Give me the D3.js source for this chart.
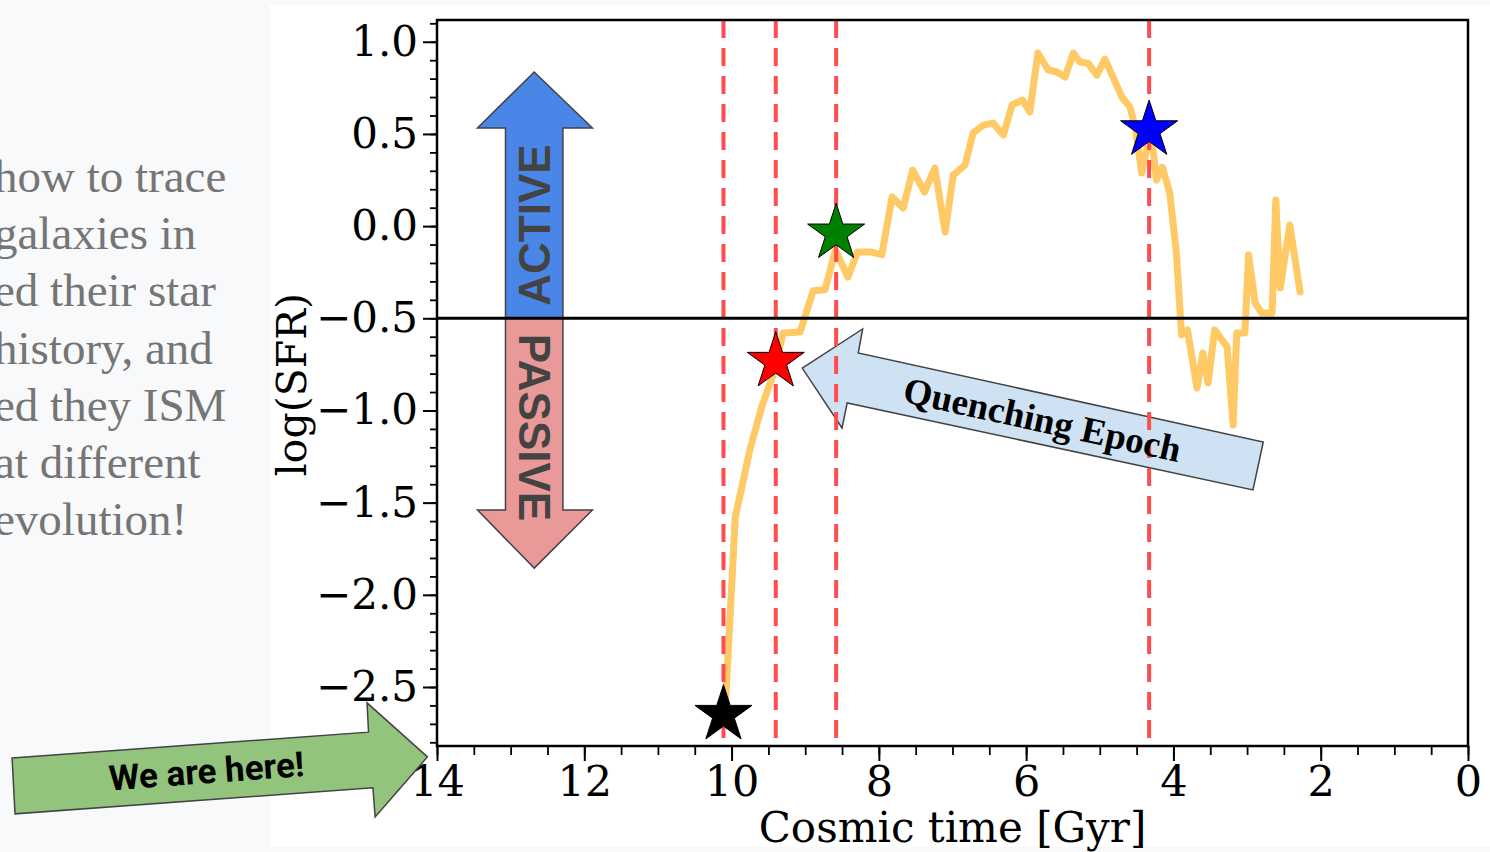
<!DOCTYPE html>
<html>
<head>
<meta charset="utf-8">
<script src="https://cdn.jsdelivr.net/npm/d3@7"></script>
<style>
  body { margin: 0; background: #f8f9fa; }
  .tick text { font-family: "DejaVu Serif", serif; fill: #000; }
</style>
</head>
<body>
<div id="chart"></div>
<script>
// DATA
// Star formation history: cosmic time (Gyr) and log(SFR)
var cosmicTime = [10.09, 9.95, 9.75, 9.59, 9.43, 9.30, 9.07, 8.89, 8.73, 8.59,
  8.42, 8.29, 8.12, 7.96, 7.82, 7.67, 7.54, 7.38, 7.24, 7.10,
  6.99, 6.83, 6.72, 6.58, 6.45, 6.31, 6.19, 6.05, 5.95, 5.84,
  5.70, 5.58, 5.47, 5.36, 5.27, 5.16, 5.04, 4.93, 4.82, 4.70,
  4.59, 4.52, 4.43, 4.36, 4.28, 4.23, 4.15, 4.05, 3.96, 3.89,
  3.81, 3.68, 3.60, 3.53, 3.44, 3.27, 3.19, 3.14, 3.03, 2.98,
  2.89, 2.80, 2.66, 2.61, 2.55, 2.42, 2.32, 2.28];
var logSFR = [-2.65, -1.58, -1.21, -0.98, -0.80, -0.58, -0.575, -0.35, -0.345, -0.13,
  -0.276, -0.14, -0.14, -0.155, 0.158, 0.098, 0.304, 0.185, 0.315, -0.032,
  0.277, 0.331, 0.505, 0.548, 0.559, 0.494, 0.657, 0.684, 0.619, 0.939,
  0.847, 0.836, 0.809, 0.939, 0.89, 0.884, 0.819, 0.906, 0.809, 0.70,
  0.646, 0.537, 0.288, 0.424, 0.424, 0.25, 0.32, 0.18, -0.146, -0.59,
  -0.563, -0.878, -0.688, -0.851, -0.563, -0.656, -1.079, -0.58, -0.58, -0.157,
  -0.417, -0.471, -0.471, 0.142, -0.335, 0.006, -0.254, -0.357];

// Marked epochs (stars + dashed lines)
var epochTime = [10.11, 9.40, 8.58, 4.33];
var epochSFR = [-2.65, -0.735, -0.039, 0.521];
var epochColor = ["#000000", "#ff0000", "#008000", "#0000ff"];

// Active / passive divide
var divideSFR = -0.5;

// Tick labels
var xTicks = [14, 12, 10, 8, 6, 4, 2, 0];
var yTicks = [1.0, 0.5, 0.0, -0.5, -1.0, -1.5, -2.0, -2.5];

// Text of the slide on the left (cut at the edge)
var sideLines = ["how to trace", "galaxies in", "ed their star", "history, and",
  "ed they ISM", "at different", "evolution!"];

// SET UP
var W = 1490, H = 852;
var margin = {top: 20, right: 22, bottom: 106, left: 437},
    width = W - margin.left - margin.right,
    height = H - margin.top - margin.bottom;

var root = d3.select("#chart").append("svg")
    .attr("width", W)
    .attr("height", H);

// slide background + white figure panel
root.append("rect").attr("width", W).attr("height", H).attr("fill", "#f8f9fa");
root.append("rect").attr("x", 270).attr("y", 5).attr("width", W - 270).attr("height", 842).attr("fill", "#ffffff");

// left slide text
root.append("g").selectAll("text")
    .data(sideLines)
    .join("text")
    .attr("x", -6)
    .attr("y", (d, i) => 192 + i * 57.2)
    .attr("font-family", "Liberation Serif, serif")
    .attr("font-size", 47)
    .attr("fill", "#757575")
    .text(d => d);

var svg = root.append("g")
    .attr("transform", "translate(" + margin.left + "," + margin.top + ")");

// scales
var x = d3.scaleLinear().domain([14, 0]).range([0, width]);
var y = d3.scaleLinear().domain([1.118, -2.82]).range([0, height]);

// ACTIVE / PASSIVE arrows (built in data units)
var arrowL = 13.07, arrowR = 12.29, headL = 13.45, headR = 11.89, arrowMid = 12.68;
var activePts = [[arrowMid, 0.836], [headR, 0.532], [arrowR, 0.532], [arrowR, divideSFR],
  [arrowL, divideSFR], [arrowL, 0.532], [headL, 0.532]];
var passivePts = [[arrowMid, -1.855], [headR, -1.54], [arrowR, -1.54], [arrowR, divideSFR],
  [arrowL, divideSFR], [arrowL, -1.54], [headL, -1.54]];
var poly = d3.line().x(d => x(d[0])).y(d => y(d[1]));

svg.append("path").attr("d", poly(activePts) + "Z")
    .attr("fill", "#4a86e8").attr("stroke", "#434343").attr("stroke-width", 1.5);
svg.append("path").attr("d", poly(passivePts) + "Z")
    .attr("fill", "#ea9999").attr("stroke", "#434343").attr("stroke-width", 1.5);

svg.append("text")
    .attr("transform", "translate(" + x(arrowMid) + "," + y(0.006) + ") rotate(-90)")
    .attr("text-anchor", "middle").attr("dominant-baseline", "central")
    .attr("font-family", "Liberation Sans, Arial, sans-serif").attr("font-weight", "bold")
    .attr("font-size", 44).attr("fill", "#434343")
    .text("ACTIVE");
svg.append("text")
    .attr("transform", "translate(" + x(arrowMid) + "," + y(-1.092) + ") rotate(90)")
    .attr("text-anchor", "middle").attr("dominant-baseline", "central")
    .attr("font-family", "Liberation Sans, Arial, sans-serif").attr("font-weight", "bold")
    .attr("font-size", 44).attr("fill", "#434343")
    .text("PASSIVE");

// SFR curve
svg.append("path")
    .datum(cosmicTime.map((t, i) => [t, logSFR[i]]))
    .attr("fill", "none")
    .attr("stroke", "#ffc966")
    .attr("stroke-width", 7)
    .attr("stroke-linejoin", "round")
    .attr("stroke-linecap", "round")
    .attr("d", d3.line().x(d => x(d[0])).y(d => y(d[1])));

// Quenching Epoch arrow
var quenchPts = [[9.04, -0.77], [8.22, -0.558], [8.28, -0.688], [2.78, -1.171],
  [2.92, -1.431], [8.43, -0.959], [8.50, -1.095]];
svg.append("path").attr("d", poly(quenchPts) + "Z")
    .attr("fill", "#cfe2f3").attr("stroke", "#434343").attr("stroke-width", 1.5);

// dashed epoch lines
svg.append("g").selectAll("line")
    .data(epochTime)
    .join("line")
    .attr("x1", d => x(d)).attr("x2", d => x(d))
    .attr("y1", 0).attr("y2", height)
    .attr("stroke", "#ff4d4d")
    .attr("stroke-width", 4)
    .attr("stroke-dasharray", "18,10");

svg.append("text")
    .attr("transform", "translate(" + x(5.78) + "," + y(-1.05) + ") rotate(12.4)")
    .attr("text-anchor", "middle").attr("dominant-baseline", "central")
    .attr("font-family", "Liberation Serif, Times New Roman, serif").attr("font-weight", "bold")
    .attr("font-size", 37).attr("fill", "#000")
    .text("Quenching Epoch");

// divide line
svg.append("line")
    .attr("x1", 0).attr("x2", width)
    .attr("y1", y(divideSFR)).attr("y2", y(divideSFR))
    .attr("stroke", "#000").attr("stroke-width", 3);

// stars
svg.append("g").selectAll("path")
    .data(epochTime)
    .join("path")
    .attr("transform", (d, i) => "translate(" + x(d) + "," + y(epochSFR[i]) + ")")
    .attr("d", d3.symbol(d3.symbolStar, 1010))
    .attr("fill", (d, i) => epochColor[i])
    .attr("stroke", "#000")
    .attr("stroke-width", 1);

// AXES
// minor ticks
svg.append("g")
    .call(d3.axisLeft(y).tickValues(d3.range(-28, 12).map(v => v / 10)).tickSize(7).tickFormat(""))
    .call(g => g.select(".domain").remove())
    .selectAll("line").attr("stroke-width", 1.8);
svg.append("g")
    .attr("transform", "translate(0," + height + ")")
    .call(d3.axisBottom(x).tickValues(d3.range(0, 29).map(v => v / 2)).tickSize(9).tickFormat(""))
    .call(g => g.select(".domain").remove())
    .selectAll("line").attr("stroke-width", 1.8);

// major ticks with labels
var yAxis = svg.append("g")
    .call(d3.axisLeft(y).tickValues(yTicks).tickSize(14).tickPadding(5).tickFormat(d3.format(".1f")))
    .call(g => g.select(".domain").remove());
yAxis.selectAll("line").attr("stroke-width", 2);
yAxis.selectAll("text").attr("font-size", 42);

var xAxis = svg.append("g")
    .attr("transform", "translate(0," + height + ")")
    .call(d3.axisBottom(x).tickValues(xTicks).tickSize(15).tickPadding(4).tickFormat(d3.format("d")))
    .call(g => g.select(".domain").remove());
xAxis.selectAll("line").attr("stroke-width", 2);
xAxis.selectAll("text").attr("font-size", 43).attr("font-family", "DejaVu Serif Condensed, DejaVu Serif, serif");

// frame
svg.append("rect")
    .attr("width", width).attr("height", height)
    .attr("fill", "none").attr("stroke", "#000").attr("stroke-width", 2.5);

// axis titles
svg.append("text")
    .attr("x", width / 2).attr("y", height + 96)
    .attr("text-anchor", "middle")
    .attr("font-family", "DejaVu Serif, serif")
    .attr("font-size", 42)
    .text("Cosmic time [Gyr]");
svg.append("text")
    .attr("transform", "translate(" + (-131) + "," + y(-0.86) + ") rotate(-90)")
    .attr("text-anchor", "middle")
    .attr("font-family", "DejaVu Serif, serif")
    .attr("font-size", 41)
    .text("log(SFR)");

// We are here! arrow
var herePts = [[19.77, -2.885], [14.93, -2.745], [14.95, -2.586], [14.13, -2.879],
  [14.84, -3.205], [14.87, -3.047], [19.73, -3.188]];
svg.append("path").attr("d", poly(herePts) + "Z")
    .attr("fill", "#93c47d").attr("stroke", "#434343").attr("stroke-width", 1.5);
svg.append("text")
    .attr("transform", "translate(" + x(17.13) + "," + y(-2.96) + ") rotate(-4.2)")
    .attr("text-anchor", "middle").attr("dominant-baseline", "central")
    .attr("font-family", "Roboto, sans-serif").attr("font-weight", "bold")
    .attr("font-size", 35).attr("fill", "#000")
    .text("We are here!");
</script>
</body>
</html>
